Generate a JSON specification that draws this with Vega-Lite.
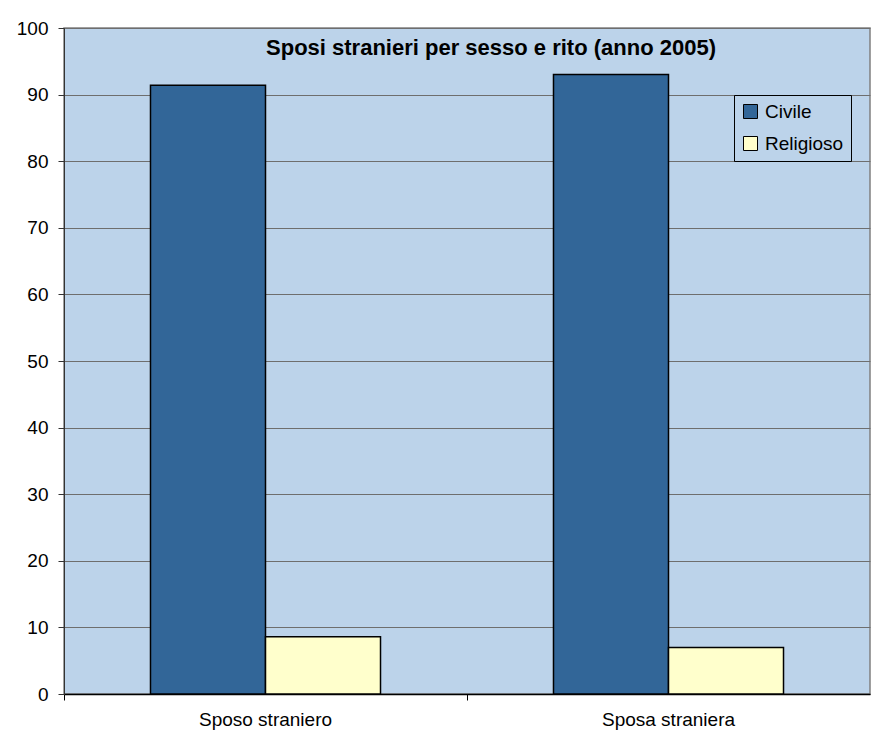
{
  "$schema": "https://vega.github.io/schema/vega-lite/v6.json",
  "autosize": {"type": "none"},
  "width": 806,
  "height": 666,
  "padding": {"left": 64, "top": 28, "right": 2, "bottom": 50},
  "background": "white",
  "title": {
    "text": "Sposi stranieri per sesso e rito (anno 2005)",
    "font": "Liberation Sans",
    "fontSize": 22,
    "fontWeight": "bold",
    "color": "#000000",
    "anchor": "middle",
    "frame": "group",
    "dx": 24,
    "offset": -41
  },
  "data": {
    "values": [
      {"categoria": "Sposo straniero", "rito": "Civile", "valore": 91.4},
      {"categoria": "Sposo straniero", "rito": "Religioso", "valore": 8.6},
      {"categoria": "Sposa straniera", "rito": "Civile", "valore": 93.0},
      {"categoria": "Sposa straniera", "rito": "Religioso", "valore": 7.0}
    ]
  },
  "mark": {"type": "bar", "stroke": "#000000", "strokeWidth": 1.5},
  "encoding": {
    "x": {
      "field": "categoria",
      "type": "nominal",
      "sort": ["Sposo straniero", "Sposa straniera"],
      "scale": {"paddingInner": 0, "paddingOuter": 0},
      "axis": {
        "title": null,
        "labelAngle": 0,
        "labelFont": "Liberation Sans",
        "labelFontSize": 19,
        "labelColor": "#000000",
        "labelPadding": 10,
        "bandPosition": 0,
        "tickSize": 6,
        "tickColor": "#000000",
        "domainColor": "#000000",
        "domainWidth": 1.5,
        "grid": false
      }
    },
    "xOffset": {
      "field": "rito",
      "type": "nominal",
      "sort": ["Civile", "Religioso"],
      "scale": {"paddingInner": 0, "paddingOuter": 0.752}
    },
    "y": {
      "field": "valore",
      "type": "quantitative",
      "scale": {"domain": [0, 100], "nice": false},
      "axis": {
        "title": null,
        "values": [0, 10, 20, 30, 40, 50, 60, 70, 80, 90, 100],
        "labelFont": "Liberation Sans",
        "labelFontSize": 19,
        "labelColor": "#000000",
        "labelPadding": 10,
        "tickSize": 6,
        "tickColor": "#333333",
        "domainColor": "#333333",
        "grid": true,
        "gridColor": "#6e6e6e",
        "gridWidth": 1
      }
    },
    "color": {
      "field": "rito",
      "type": "nominal",
      "sort": ["Civile", "Religioso"],
      "scale": {"domain": ["Civile", "Religioso"], "range": ["#326698", "#FFFFCC"]},
      "legend": {
        "title": null,
        "orient": "none",
        "legendX": 670,
        "legendY": 67,
        "direction": "vertical",
        "strokeColor": "#000000",
        "fillColor": null,
        "padding": 7,
        "symbolType": "square",
        "symbolSize": 196,
        "symbolStrokeColor": "#000000",
        "symbolStrokeWidth": 1,
        "symbolOpacity": 1,
        "labelFont": "Liberation Sans",
        "labelFontSize": 19,
        "labelColor": "#000000",
        "labelOffset": 5,
        "rowPadding": 12
      }
    }
  },
  "config": {
    "view": {"fill": "#BCD3EA", "stroke": "#808080", "strokeWidth": 1.5}
  }
}
